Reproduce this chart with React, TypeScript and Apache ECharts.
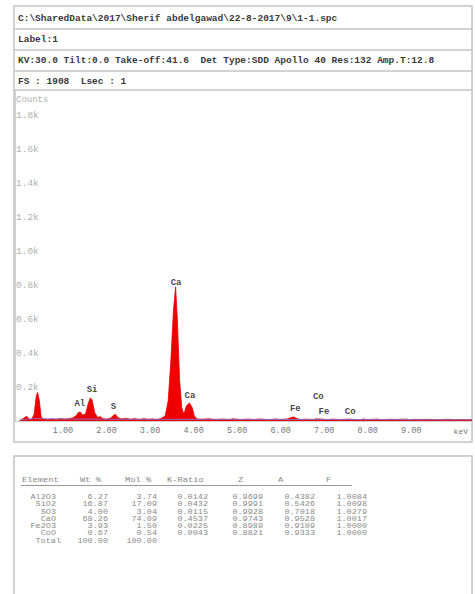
import React, { useEffect, useRef } from "react";
import * as echarts from "echarts";

// ---- header texts ----
const headerLines = [
  "C:\\SharedData\\2017\\Sherif abdelgawad\\22-8-2017\\9\\1-1.spc",
  "Label:1",
  "KV:30.0 Tilt:0.0 Take-off:41.6  Det Type:SDD Apollo 40 Res:132 Amp.T:12.8",
  "FS : 1908  Lsec : 1",
];

// ---- spectrum (keV, counts) ----
const energies = [
  0.10, 0.15, 0.22, 0.27, 0.32, 0.38, 0.44, 0.49, 0.52, 0.56, 0.60, 0.66, 0.75, 0.85, 0.95,
  1.05, 1.15, 1.25, 1.32, 1.40, 1.46, 1.50, 1.55, 1.62, 1.68, 1.73, 1.77, 1.83, 1.90, 1.95,
  2.02, 2.10, 2.20, 2.27, 2.31, 2.36, 2.45, 2.55, 2.65, 2.75, 2.85, 2.95, 3.05, 3.15, 3.25,
  3.35, 3.45, 3.52, 3.58, 3.64, 3.69, 3.73, 3.78, 3.83, 3.88, 3.94, 4.01, 4.07, 4.12, 4.18,
  4.30, 4.45, 4.60, 4.75, 4.90, 5.05, 5.20, 5.35, 5.50, 5.65, 5.80, 5.95, 6.10, 6.25, 6.35,
  6.40, 6.46, 6.55, 6.70, 6.85, 6.93, 7.00, 7.06, 7.15, 7.30, 7.45, 7.60, 7.70, 7.85, 8.00,
  8.15, 8.30, 8.45, 8.60, 8.75, 8.90, 9.05, 9.20, 9.35, 9.50, 9.65, 9.80, 9.95, 10.10, 10.25,
  10.40, 10.50,
];
const counts = [
  0, 8, 20, 28, 12, 8, 40, 150, 168, 120, 25, 10, 8, 12, 9,
  14, 10, 15, 18, 30, 50, 53, 35, 40, 100, 136, 125, 50, 20, 26,
  14, 10, 18, 35, 38, 20, 12, 16, 10, 14, 9, 13, 10, 12, 9,
  14, 30, 120, 350, 650, 790, 600, 250, 80, 40, 90, 106, 80, 30, 12,
  10, 13, 8, 11, 9, 12, 8, 11, 9, 12, 8, 11, 9, 12, 20,
  24, 16, 9, 11, 9, 13, 10, 12, 8, 11, 9, 10, 11, 8, 10,
  9, 11, 8, 10, 9, 11, 8, 10, 9, 10, 8, 9, 10, 8, 9,
  8, 8,
];

// background fit line
const bgEnergies = [0.1, 0.5, 1.0, 2.0, 3.0, 4.0, 6.0, 8.0, 10.5];
const bgCounts = [5, 14, 12, 11, 10, 10, 9, 8, 7];

// peak labels
const peakNames = ["Al", "Si", "S", "Ca", "Ca", "Fe", "Co", "Fe", "Co"];
const peakKeV = [1.49, 1.77, 2.26, 3.70, 4.02, 6.44, 6.97, 7.10, 7.70];
const peakLabelCounts = [100, 183, 83, 815, 148, 71, 142, 53, 53];

// axis ticks
const xTickValues = [1, 2, 3, 4, 5, 6, 7, 8, 9];
const yTickValues = [200, 400, 600, 800, 1000, 1200, 1400, 1600, 1800];

// ---- quantification table ----
const tableHeaders = ["Element", "Wt %", "Mol %", "K-Ratio", "Z", "A", "F"];
const elements = ["Al2O3", "SiO2", "SO3", "CaO", "Fe2O3", "CoO", "Total"];
const wtPct = ["6.27", "16.87", "4.00", "68.26", "3.93", "0.67", "100.00"];
const molPct = ["3.74", "17.09", "3.04", "74.09", "1.50", "0.54", "100.00"];
const kRatio = ["0.0142", "0.0432", "0.0115", "0.4537", "0.0225", "0.0043", ""];
const zFactor = ["0.9699", "0.9991", "0.9928", "0.9743", "0.8989", "0.8821", ""];
const aFactor = ["0.4382", "0.5426", "0.7018", "0.9528", "0.9109", "0.9333", ""];
const fFactor = ["1.0084", "1.0098", "1.0279", "1.0017", "1.0000", "1.0000", ""];

const MONO = "'Liberation Mono', 'DejaVu Sans Mono', monospace";

export default function App() {
  const ref = useRef<HTMLDivElement>(null);

  useEffect(() => {
    if (!ref.current) return;
    const chart = echarts.init(ref.current, undefined, { renderer: "svg" });

    const graphics: any[] = [];
    // top box
    graphics.push({
      type: "rect",
      shape: { x: 14, y: 6, width: 458, height: 436 },
      style: { fill: "none", stroke: "#c4c4c4", lineWidth: 1.5 },
      z: 0,
    });
    [29, 50, 71, 90].forEach((y) =>
      graphics.push({
        type: "line",
        shape: { x1: 14, y1: y, x2: 472, y2: y },
        style: { stroke: "#c4c4c4", lineWidth: 1.5 },
      })
    );
    const headerY = [18, 39, 60, 81];
    headerLines.forEach((t, i) =>
      graphics.push({
        type: "text",
        x: 18,
        y: headerY[i],
        style: {
          text: t,
          font: `bold 9.5px ${MONO}`,
          fill: "#3a3a3a",
          verticalAlign: "middle",
        },
      })
    );
    graphics.push({
      type: "text",
      x: 16,
      y: 100,
      style: { text: "Counts", font: `9px ${MONO}`, fill: "#b0b0b0", verticalAlign: "middle" },
    });
    graphics.push({
      type: "text",
      x: 468,
      y: 431,
      style: { text: "keV", font: `8px ${MONO}`, fill: "#777", verticalAlign: "middle", align: "right" },
    });

    // table box
    graphics.push({
      type: "rect",
      shape: { x: 14, y: 456, width: 458, height: 150 },
      style: { fill: "none", stroke: "#c4c4c4", lineWidth: 1.5 },
    });
    const headerX = [22, 80, 125, 167, 238, 278, 326];
    tableHeaders.forEach((h, i) =>
      graphics.push({
        type: "text",
        x: headerX[i],
        y: 480,
        scaleX: 1.25,
        style: {
          text: h,
          font: `7px ${MONO}`,
          lineHeight: 7,
          fill: "#888",
          verticalAlign: "middle",
        },
      })
    );
    graphics.push({
      type: "line",
      shape: { x1: 21, y1: 485.5, x2: 352, y2: 485.5 },
      style: { stroke: "#999", lineWidth: 1 },
    });
    const cols = [elements, wtPct, molPct, kRatio, zFactor, aFactor, fFactor];
    const colRight = [56, 108, 157, 208, 263, 315, 367];
    elements.forEach((el, r) => {
      const y = 497.3 + r * 7.25;
      cols.forEach((col, c) => {
        if (!col[r]) return;
        const right = c === 0 && el === "Total" ? 61 : colRight[c];
        graphics.push({
          type: "text",
          x: right,
          y,
          scaleX: 1.25,
          style: {
            text: col[r],
            font: `6.8px ${MONO}`,
            lineHeight: 7,
            fill: "#8a8a8a",
            align: "right",
            verticalAlign: "middle",
          },
        });
      });
    });

    const spectrum = energies.map((e, i) => [e, counts[i]]);
    const background = bgEnergies.map((e, i) => [e, bgCounts[i]]);
    const labels = peakNames.map((n, i) => ({ name: n, value: [peakKeV[i], peakLabelCounts[i]] }));

    chart.setOption({
      animation: false,
      backgroundColor: "#fff",
      grid: { left: 15, right: 3, top: 90, bottom: 173 },
      xAxis: {
        type: "value",
        min: 0,
        max: 10.5,
        splitLine: { show: false },
        axisLine: { show: true, lineStyle: { color: "#d0d0d0", width: 1 } },
        axisTick: {
          show: true,
          inside: true,
          length: 3,
          customValues: xTickValues,
          lineStyle: { color: "#999" },
        },
        axisLabel: {
          customValues: xTickValues,
          formatter: (v: number) => v.toFixed(2),
          fontFamily: MONO,
          fontSize: 8.5,
          color: "#777",
          margin: 5,
          padding: [0, 0, 0, 9],
        },
      },
      yAxis: {
        type: "value",
        min: 0,
        max: 1950,
        splitLine: { show: false },
        axisLine: { show: true, lineStyle: { color: "#cfcfcf", width: 2 } },
        axisTick: { show: false },
        axisLabel: {
          inside: true,
          customValues: yTickValues,
          formatter: (v: number) => (v / 1000).toFixed(1) + "k",
          fontFamily: MONO,
          fontSize: 9.5,
          color: "#b0b0b0",
          margin: 1,
          padding: [4, 0, 0, 0],
        },
      },
      series: [
        {
          type: "line",
          data: spectrum,
          symbol: "none",
          lineStyle: { color: "#e60000", width: 0.8 },
          areaStyle: { color: "#ee0000", opacity: 1 },
          z: 2,
        },
        {
          type: "line",
          data: background,
          symbol: "none",
          smooth: true,
          lineStyle: { color: "#8a70c8", width: 1 },
          z: 3,
        },
        {
          type: "scatter",
          data: labels,
          symbolSize: 0,
          z: 4,
          label: {
            show: true,
            position: "inside",
            formatter: "{b}",
            fontFamily: MONO,
            fontWeight: "bold",
            fontSize: 9,
            color: "#111",
          },
        },
      ],
      graphic: graphics,
    });

    return () => chart.dispose();
  }, []);

  return (
    <div
      ref={ref}
      style={{ position: "absolute", left: 0, top: 0, width: 475, height: 594, background: "#fff" }}
    />
  );
}
